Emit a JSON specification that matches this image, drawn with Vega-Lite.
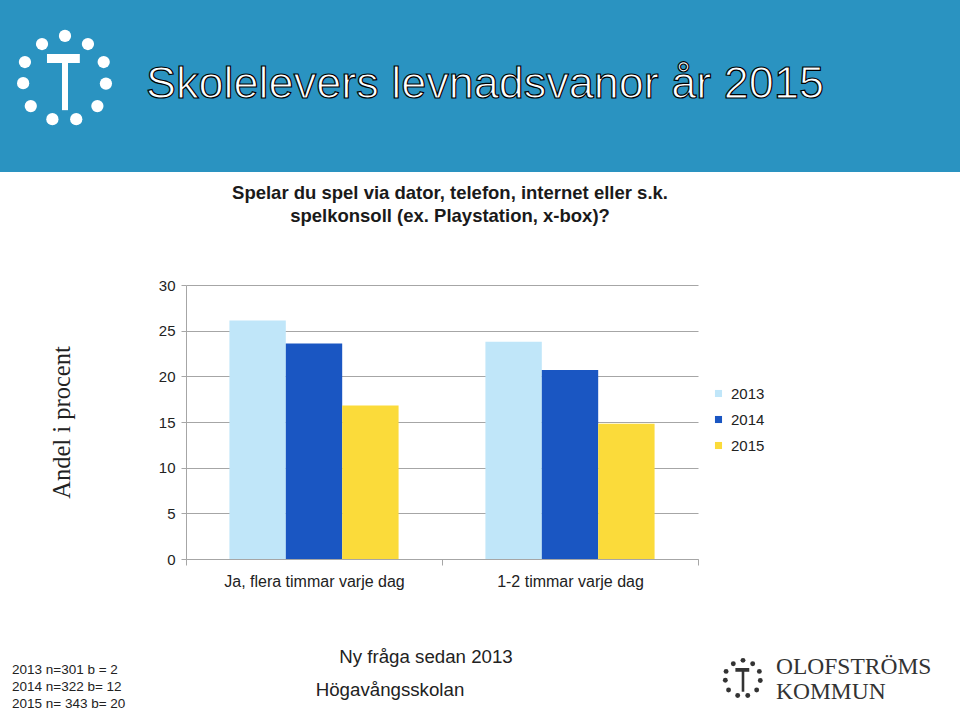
{
  "$schema": "https://vega.github.io/schema/vega-lite/v6.json",
  "padding": 0,
  "background": "white",
  "config": {"view": {"stroke": null}, "font": "Liberation Sans"},
  "datasets": {
    "bars": [
      {"cat": "Ja, flera timmar varje dag", "year": "2013", "value": 26.1},
      {"cat": "Ja, flera timmar varje dag", "year": "2014", "value": 23.6},
      {"cat": "Ja, flera timmar varje dag", "year": "2015", "value": 16.8},
      {"cat": "1-2 timmar varje dag", "year": "2013", "value": 23.8},
      {"cat": "1-2 timmar varje dag", "year": "2014", "value": 20.7},
      {"cat": "1-2 timmar varje dag", "year": "2015", "value": 14.8}
    ],
    "dots": [
      {"x": 0, "y": 0.98}, {"x": -0.51, "y": 0.8}, {"x": 0.51, "y": 0.8},
      {"x": -0.89, "y": 0.4}, {"x": 0.86, "y": 0.4}, {"x": -0.93, "y": -0.07},
      {"x": 0.91, "y": -0.08}, {"x": -0.76, "y": -0.58}, {"x": 0.72, "y": -0.58},
      {"x": -0.28, "y": -0.87}, {"x": 0.25, "y": -0.87}
    ],
    "stem": [{"x": 0, "y": 0.44, "x2": 0, "y2": -0.67}],
    "head": [{"x": -0.4, "y": 0.48, "x2": 0.33, "y2": 0.48}]
  },
  "bounds": "flush",
  "spacing": 0,
  "vconcat": [
    {
      "width": 960, "height": 172,
      "view": {"fill": "#2a93c1", "stroke": null},
      "layer": [
        {
          "data": {"name": "dots"},
          "mark": {"type": "circle", "color": "white", "opacity": 1, "size": 150},
          "encoding": {
            "x": {"field": "x", "type": "quantitative", "scale": {"domain": [-1.444, 19.889], "nice": false, "zero": false}, "axis": null},
            "y": {"field": "y", "type": "quantitative", "scale": {"domain": [-2.044, 1.778], "nice": false, "zero": false}, "axis": null}
          }
        },
        {
          "data": {"name": "stem"},
          "mark": {"type": "rule", "color": "white", "strokeWidth": 6},
          "encoding": {
            "x": {"field": "x", "type": "quantitative"}, "y": {"field": "y", "type": "quantitative"},
            "x2": {"field": "x2"}, "y2": {"field": "y2"}
          }
        },
        {
          "data": {"name": "head"},
          "mark": {"type": "rule", "color": "white", "strokeWidth": 9},
          "encoding": {
            "x": {"field": "x", "type": "quantitative"}, "y": {"field": "y", "type": "quantitative"},
            "x2": {"field": "x2"}, "y2": {"field": "y2"}
          }
        },
        {
          "data": {"values": [{"t": "Skolelevers levnadsvanor år 2015"}]},
          "mark": {"type": "text", "fontSize": 45, "fill": "white", "stroke": "black", "strokeWidth": 1.2, "align": "center", "baseline": "middle", "dx": 5, "dy": -2},
          "encoding": {"text": {"field": "t"}}
        }
      ]
    },
    {
      "width": 960, "height": 113,
      "data": {"values": [{"t": "Spelar du spel via dator, telefon, internet eller s.k.\nspelkonsoll (ex. Playstation, x-box)?"}]},
      "mark": {"type": "text", "fontSize": 18.5, "fontWeight": "bold", "color": "#1a1a1a", "lineBreak": "\n", "lineHeight": 23, "align": "center", "baseline": "middle", "dx": -30, "dy": -36},
      "encoding": {"text": {"field": "t"}}
    },
    {
      "bounds": "flush",
      "spacing": 0,
      "hconcat": [
        {"width": 186, "height": 274, "data": {"values": []}, "mark": "point"},
        {
          "width": 512, "height": 274,
          "data": {"name": "bars"},
          "mark": {"type": "bar"},
          "encoding": {
            "x": {
              "field": "cat", "type": "nominal", "sort": null,
              "scale": {"paddingInner": 0, "paddingOuter": 0},
              "axis": {"title": null, "labelAngle": 0, "labelFontSize": 16, "labelLimit": 400, "labelColor": "#222", "labelPadding": 8, "tickBand": "extent", "domainColor": "#a6a6a6", "tickColor": "#a6a6a6", "tickSize": 6}
            },
            "xOffset": {"field": "year", "type": "nominal", "scale": {"paddingInner": 0, "paddingOuter": 0.77}},
            "y": {
              "field": "value", "type": "quantitative",
              "scale": {"domain": [0, 30], "nice": false},
              "axis": {"values": [0, 5, 10, 15, 20, 25, 30], "title": "Andel i procent", "titleFont": "Liberation Serif", "titleFontSize": 24.5, "titleFontWeight": "normal", "titleColor": "#222", "titlePadding": 84, "labelFontSize": 15, "labelColor": "#222", "labelPadding": 6, "gridColor": "#a6a6a6", "domainColor": "#a6a6a6", "tickColor": "#a6a6a6", "tickSize": 5}
            },
            "color": {
              "field": "year", "type": "nominal",
              "scale": {"domain": ["2013", "2014", "2015"], "range": ["#c0e6f9", "#1a56c2", "#fbdb3a"]},
              "legend": {"title": null, "orient": "none", "legendX": 711, "legendY": 386, "symbolType": "square", "symbolSize": 50, "labelFontSize": 15, "labelColor": "#222", "rowPadding": 10, "labelOffset": 5}
            }
          }
        }
      ]
    },
    {
      "width": 960, "height": 425,
      "layer": [
        {
          "data": {"values": [{"t": "2013  n=301 b = 2\n2014  n=322 b= 12\n2015  n= 343 b= 20"}]},
          "mark": {"type": "text", "fontSize": 13.5, "color": "#222", "lineBreak": "\n", "lineHeight": 17, "align": "left", "baseline": "middle", "dx": -468, "dy": 172.5},
          "encoding": {"text": {"field": "t"}}
        },
        {
          "data": {"values": [{"t": "Ny fråga sedan 2013"}]},
          "mark": {"type": "text", "fontSize": 18.7, "color": "#222", "align": "center", "baseline": "middle", "dx": -54, "dy": 159.5},
          "encoding": {"text": {"field": "t"}}
        },
        {
          "data": {"values": [{"t": "Högavångsskolan"}]},
          "mark": {"type": "text", "fontSize": 18.7, "color": "#222", "align": "center", "baseline": "middle", "dx": -90, "dy": 192.5},
          "encoding": {"text": {"field": "t"}}
        },
        {
          "data": {"values": [{"t": "OLOFSTRÖMS\nKOMMUN"}]},
          "mark": {"type": "text", "font": "Liberation Serif", "fontSize": 23.5, "color": "#333", "lineBreak": "\n", "lineHeight": 25, "align": "left", "baseline": "middle", "dx": 296, "dy": 169},
          "encoding": {"text": {"field": "t"}}
        },
        {
          "data": {"name": "dots"},
          "mark": {"type": "circle", "color": "#333", "opacity": 1, "size": 24},
          "encoding": {
            "x": {"field": "x", "type": "quantitative", "scale": {"domain": [-39.105, 11.421], "nice": false, "zero": false}, "axis": null},
            "y": {"field": "y", "type": "quantitative", "scale": {"domain": [-1.632, 20.737], "nice": false, "zero": false}, "axis": null}
          }
        },
        {
          "data": {"name": "stem"},
          "mark": {"type": "rule", "color": "#333", "strokeWidth": 2.6},
          "encoding": {
            "x": {"field": "x", "type": "quantitative"}, "y": {"field": "y", "type": "quantitative"},
            "x2": {"field": "x2"}, "y2": {"field": "y2"}
          }
        },
        {
          "data": {"name": "head"},
          "mark": {"type": "rule", "color": "#333", "strokeWidth": 3.8},
          "encoding": {
            "x": {"field": "x", "type": "quantitative"}, "y": {"field": "y", "type": "quantitative"},
            "x2": {"field": "x2"}, "y2": {"field": "y2"}
          }
        }
      ]
    }
  ]
}
